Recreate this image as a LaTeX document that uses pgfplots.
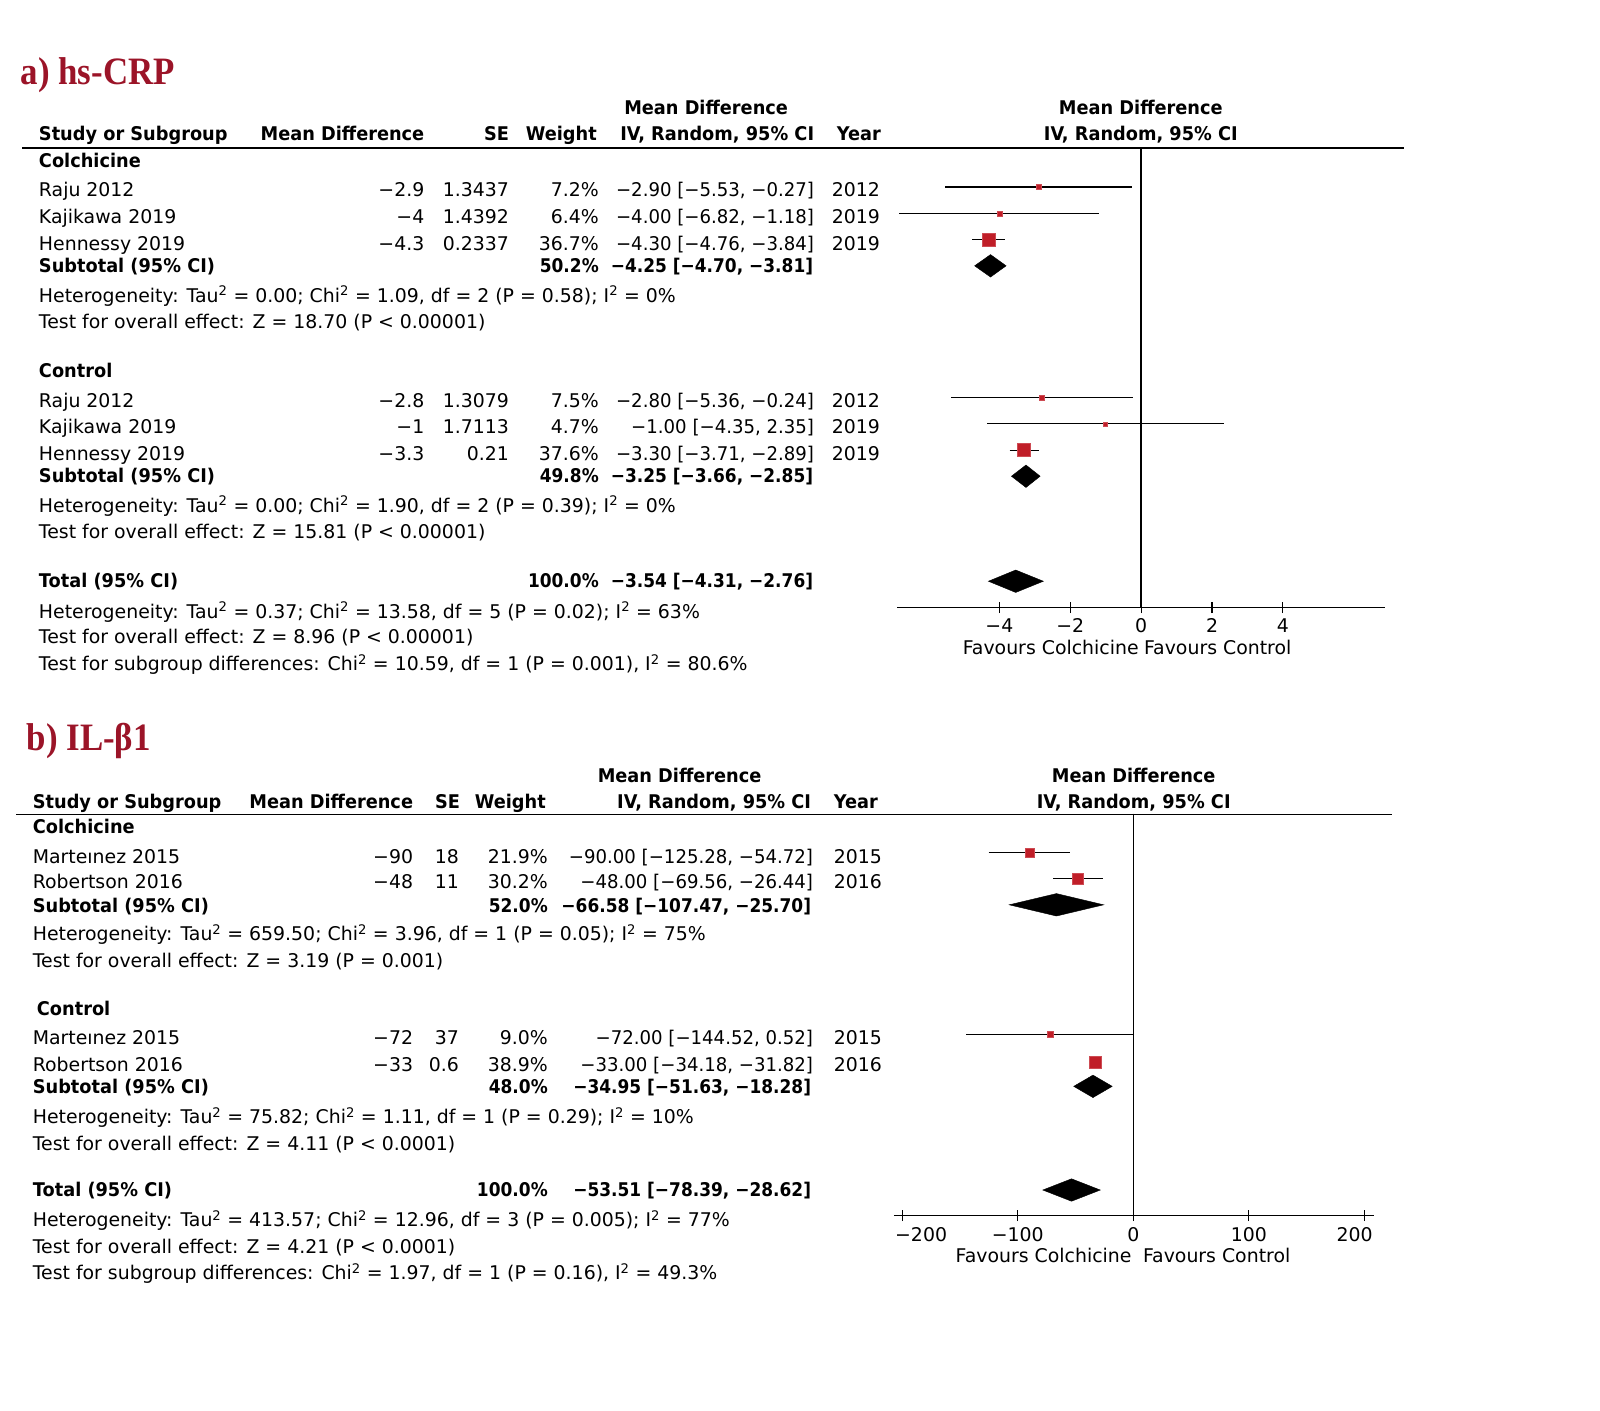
\documentclass[border=0pt]{standalone}
\usepackage{fontspec}
\setmainfont{DejaVu Sans}[BoldFeatures={FakeStretch=0.94}]
\newfontfamily\bnum{DejaVu Sans}[FakeStretch=0.9]
\newfontfamily\rnum{DejaVu Sans}[FakeStretch=0.96]
\newfontfamily\titlefont{Liberation Serif}[FakeStretch=0.9]
\usepackage{pgfplots}
\pgfplotsset{compat=1.18}
\definecolor{titlered}{RGB}{155,20,40}
\definecolor{sqred}{RGB}{192,30,40}

\newcommand{\tw}[3]{\node[anchor=base west] at (#1,#2) {#3};}
\newcommand{\te}[3]{\node[anchor=base east] at (#1,#2) {#3};}
\newcommand{\tc}[3]{\node[anchor=base] at (#1,#2) {#3};}
\newcommand{\sq}{\textsuperscript{2}}
\newcommand{\bn}[1]{{\bnum\bfseries #1}}
% study rows: y, name, md, se, weight, ci, year
\newcommand{\rowa}[7]{\tw{38}{#1}{#2}\te{416}{#1}{#3}\te{499}{#1}{#4}\te{587}{#1}{#5}\te{798}{#1}{\rnum #6}\tw{815}{#1}{#7}}
\newcommand{\rowb}[7]{\tw{32}{#1}{#2}\te{405}{#1}{#3}\te{450}{#1}{#4}\te{537}{#1}{#5}\te{797}{#1}{\rnum #6}\tw{817}{#1}{#7}}

\pgfplotsset{forest/.style={
  scale only axis, anchor=south west, clip=false,
  axis x line*=bottom, axis y line=none, ytick=\empty,
  tick align=center, major tick length=11pt,
  tick style={black, line width=1.2pt},
  axis line style={line width=1.3pt},
  xticklabel style={anchor=base, inner sep=0pt, font=\fontsize{18.5}{22}\selectfont},
},
ci/.style={black, line width=1.2pt},
sqr/.style={only marks, mark=square*, mark options={fill=sqred, draw=sqred!80!white, line width=0.5pt}},
dia/.style={fill=black, draw=black},
}

\begin{document}
\begin{tikzpicture}[x=1pt, y=-1pt, every node/.style={inner sep=0pt}]
\path (0,0) rectangle (1568,1382);
\fontsize{18.5}{22}\selectfont

% ---------------- a) hs-CRP ----------------
\node[anchor=base west] at (20,83) {\titlefont\bfseries\fontsize{38}{40}\selectfont\color{titlered}a) hs-CRP};
\tc{692}{112}{\bfseries Mean Difference}
\tc{1118}{112}{\bfseries Mean Difference}
\tw{38}{138}{\bfseries Study or Subgroup}
\te{416}{138}{\bfseries Mean Difference}
\te{499}{138}{\bfseries SE}
\te{585}{138}{\bfseries Weight}
\te{798}{138}{\bfseries IV, Random, 95\% CI}
\tw{820}{138}{\bfseries Year}
\tc{1118}{138}{\bfseries IV, Random, 95\% CI}
\draw[line width=1.3pt] (22,145) -- (1376,145);

\tw{38}{164}{\bfseries Colchicine}
\rowa{193}{Raju 2012}{−2.9}{1.3437}{7.2\%}{−2.90 [−5.53, −0.27]}{2012}
\rowa{219}{Kajikawa 2019}{−4}{1.4392}{6.4\%}{−4.00 [−6.82, −1.18]}{2019}
\rowa{245}{Hennessy 2019}{−4.3}{0.2337}{36.7\%}{−4.30 [−4.76, −3.84]}{2019}
\tw{38}{267}{\bfseries Subtotal (95\% CI)}
\te{587}{267}{\bn{50.2\%}}
\te{797}{267}{\bn{−4.25 [−4.70, −3.81]}}
\tw{38}{296}{Heterogeneity: Tau\sq{} = 0.00; Chi\sq{} = 1.09, df = 2 (P = 0.58); I\sq{} = 0\%}
\tw{38}{322}{Test for overall effect: Z = 18.70 (P < 0.00001)}

\tw{38}{370}{\bfseries Control}
\rowa{399}{Raju 2012}{−2.8}{1.3079}{7.5\%}{−2.80 [−5.36, −0.24]}{2012}
\rowa{425}{Kajikawa 2019}{−1}{1.7113}{4.7\%}{−1.00 [−4.35, 2.35]}{2019}
\rowa{451}{Hennessy 2019}{−3.3}{0.21}{37.6\%}{−3.30 [−3.71, −2.89]}{2019}
\tw{38}{473}{\bfseries Subtotal (95\% CI)}
\te{587}{473}{\bn{49.8\%}}
\te{797}{473}{\bn{−3.25 [−3.66, −2.85]}}
\tw{38}{502}{Heterogeneity: Tau\sq{} = 0.00; Chi\sq{} = 1.90, df = 2 (P = 0.39); I\sq{} = 0\%}
\tw{38}{528}{Test for overall effect: Z = 15.81 (P < 0.00001)}

\tw{38}{576}{\bfseries Total (95\% CI)}
\te{587}{576}{\bn{100.0\%}}
\te{797}{576}{\bn{−3.54 [−4.31, −2.76]}}
\tw{38}{606}{Heterogeneity: Tau\sq{} = 0.37; Chi\sq{} = 13.58, df = 5 (P = 0.02); I\sq{} = 63\%}
\tw{38}{631}{Test for overall effect: Z = 8.96 (P < 0.00001)}
\tw{38}{657}{Test for subgroup differences: Chi\sq{} = 10.59, df = 1 (P = 0.001), I\sq{} = 80.6\%}
\te{1116}{641}{Favours Colchicine}
\tw{1121}{641}{Favours Control}

\begin{axis}[forest, at={(879.4pt,-595.4pt)}, width=477.8pt, height=451.1pt,
  xmin=-6.88, xmax=6.88, ymin=-595.4, ymax=-144.3,
  xtick={-4,-2,0,2,4}, xticklabels={−4,−2,0,2,4},
  xticklabel style={yshift=-18.8pt}]
\addplot[line width=1.3pt] coordinates {(0,-144.3) (0,-595.4)};
% study CIs
\addplot[ci] coordinates {(-5.53,-183.3) (-0.27,-183.3)};
\addplot[ci] coordinates {(-6.82,-209.2) (-1.18,-209.2)};
\addplot[ci] coordinates {(-4.76,-234.6) (-3.84,-234.6)};
\addplot[ci] coordinates {(-5.36,-389.5) (-0.24,-389.5)};
\addplot[ci] coordinates {(-4.35,-415.4) (2.35,-415.4)};
\addplot[ci] coordinates {(-3.71,-441.2) (-2.89,-441.2)};
% point estimates, sized by weight
\addplot[sqr, mark size=2.5pt] coordinates {(-2.90,-183.3)};
\addplot[sqr, mark size=2.3pt] coordinates {(-4.00,-209.2)};
\addplot[sqr, mark size=6.3pt] coordinates {(-4.30,-234.6)};
\addplot[sqr, mark size=2.6pt] coordinates {(-2.80,-389.5)};
\addplot[sqr, mark size=2.0pt] coordinates {(-1.00,-415.4)};
\addplot[sqr, mark size=6.4pt] coordinates {(-3.30,-441.2)};
% pooled diamonds
\addplot[dia] coordinates {(-4.70,-260.5) (-4.25,-249.5) (-3.81,-260.5) (-4.25,-271.5)} --cycle;
\addplot[dia] coordinates {(-3.66,-466.7) (-3.25,-455.7) (-2.85,-466.7) (-3.25,-477.7)} --cycle;
\addplot[dia] coordinates {(-4.31,-569.6) (-3.54,-558.6) (-2.76,-569.6) (-3.54,-580.6)} --cycle;
\end{axis}

% ---------------- b) IL-beta1 ----------------
\node[anchor=base west] at (26,735) {\titlefont\bfseries\fontsize{38}{40}\selectfont\color{titlered}b) IL-β1};
\tc{666}{767}{\bfseries Mean Difference}
\tc{1111}{767}{\bfseries Mean Difference}
\tw{32}{792}{\bfseries Study or Subgroup}
\te{405}{792}{\bfseries Mean Difference}
\te{451}{792}{\bfseries SE}
\te{535}{792}{\bfseries Weight}
\te{795}{792}{\bfseries IV, Random, 95\% CI}
\tw{817}{792}{\bfseries Year}
\tc{1111}{792}{\bfseries IV, Random, 95\% CI}
\draw[line width=1.3pt] (16,798) -- (1364,798);

\tw{32}{817}{\bfseries Colchicine}
\rowb{846}{Marteınez 2015}{−90}{18}{21.9\%}{−90.00 [−125.28, −54.72]}{2015}
\rowb{871}{Robertson 2016}{−48}{11}{30.2\%}{−48.00 [−69.56, −26.44]}{2016}
\tw{32}{894}{\bfseries Subtotal (95\% CI)}
\te{537}{894}{\bn{52.0\%}}
\te{795}{894}{\bn{−66.58 [−107.47, −25.70]}}
\tw{32}{922}{Heterogeneity: Tau\sq{} = 659.50; Chi\sq{} = 3.96, df = 1 (P = 0.05); I\sq{} = 75\%}
\tw{32}{948}{Test for overall effect: Z = 3.19 (P = 0.001)}

\tw{36}{995}{\bfseries Control}
\rowb{1024}{Marteınez 2015}{−72}{37}{9.0\%}{−72.00 [−144.52, 0.52]}{2015}
\rowb{1050}{Robertson 2016}{−33}{0.6}{38.9\%}{−33.00 [−34.18, −31.82]}{2016}
\tw{32}{1072}{\bfseries Subtotal (95\% CI)}
\te{537}{1072}{\bn{48.0\%}}
\te{795}{1072}{\bn{−34.95 [−51.63, −18.28]}}
\tw{32}{1101}{Heterogeneity: Tau\sq{} = 75.82; Chi\sq{} = 1.11, df = 1 (P = 0.29); I\sq{} = 10\%}
\tw{32}{1127}{Test for overall effect: Z = 4.11 (P < 0.0001)}

\tw{32}{1173}{\bfseries Total (95\% CI)}
\te{537}{1173}{\bn{100.0\%}}
\te{795}{1173}{\bn{−53.51 [−78.39, −28.62]}}
\tw{32}{1202}{Heterogeneity: Tau\sq{} = 413.57; Chi\sq{} = 12.96, df = 3 (P = 0.005); I\sq{} = 77\%}
\tw{32}{1228}{Test for overall effect: Z = 4.21 (P < 0.0001)}
\tw{32}{1254}{Test for subgroup differences: Chi\sq{} = 1.97, df = 1 (P = 0.16), I\sq{} = 49.3\%}
\te{1109}{1237}{Favours Colchicine}
\tw{1120}{1237}{Favours Control}

\begin{axis}[forest, at={(876pt,-1191.3pt)}, width=470.7pt, height=394pt,
  xmin=-207.3, xmax=208.5, ymin=-1191.3, ymax=-797.3,
  xtick={-200,-100,0,100,200},
  xticklabels={\makebox[0pt][l]{\kern-7pt−200}, −100, 0, 100, \makebox[0pt][r]{200\kern-8pt}},
  xticklabel style={yshift=-19.8pt}]
\addplot[line width=1.3pt] coordinates {(0,-797.3) (0,-1191.3)};
\addplot[ci] coordinates {(-125.28,-835.5) (-54.72,-835.5)};
\addplot[ci] coordinates {(-69.56,-861.2) (-26.44,-861.2)};
\addplot[ci] coordinates {(-144.52,-1013.7) (0.52,-1013.7)};
\addplot[ci] coordinates {(-34.18,-1040.8) (-31.82,-1040.8)};
\addplot[sqr, mark size=4.3pt] coordinates {(-90,-835.5)};
\addplot[sqr, mark size=5.3pt] coordinates {(-48,-861.2)};
\addplot[sqr, mark size=2.7pt] coordinates {(-72,-1013.7)};
\addplot[sqr, mark size=6.1pt] coordinates {(-33,-1040.8)};
\addplot[dia] coordinates {(-107.47,-886.7) (-66.58,-875.7) (-25.70,-886.7) (-66.58,-897.7)} --cycle;
\addplot[dia] coordinates {(-51.63,-1064.6) (-34.95,-1053.6) (-18.28,-1064.6) (-34.95,-1075.6)} --cycle;
\addplot[dia] coordinates {(-78.39,-1166.2) (-53.51,-1155.2) (-28.62,-1166.2) (-53.51,-1177.2)} --cycle;
\end{axis}
\end{tikzpicture}
\end{document}
